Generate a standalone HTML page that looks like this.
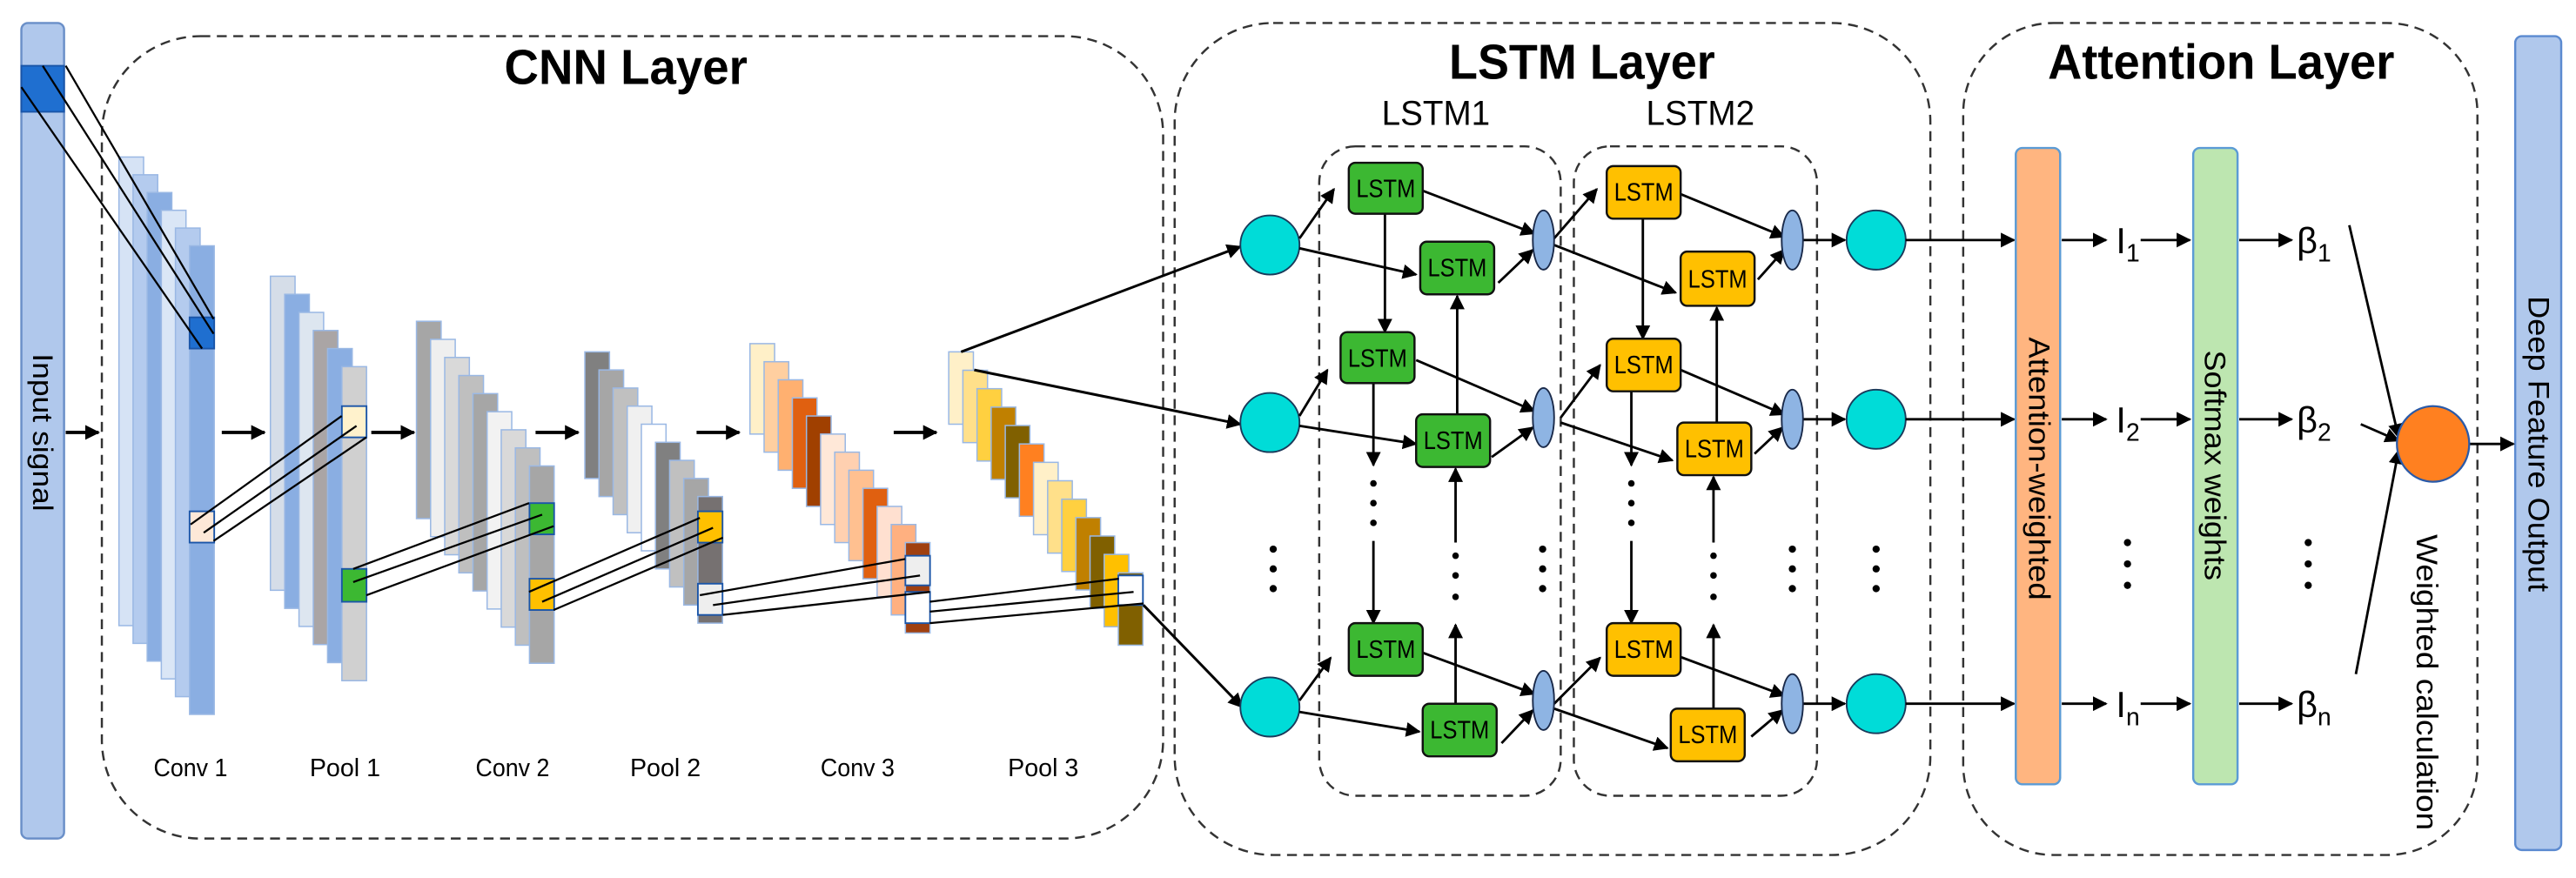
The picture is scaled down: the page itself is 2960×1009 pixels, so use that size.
<!DOCTYPE html>
<html><head><meta charset="utf-8"><style>html,body{margin:0;padding:0;background:#fff}svg{display:block}</style></head>
<body>
<svg width="2960" height="1009" viewBox="0 0 1568 534" preserveAspectRatio="none" xmlns="http://www.w3.org/2000/svg" font-family="Liberation Sans, sans-serif">
<defs>
<marker id="a" viewBox="0 0 10 10" refX="9" refY="5" markerWidth="9" markerHeight="9" markerUnits="userSpaceOnUse" orient="auto"><path d="M0,0L10,5L0,10z" fill="#000"/></marker>
</defs>
<rect width="1568" height="534" fill="#fff"/>
<g fill="none" stroke="#333" stroke-width="1.3" stroke-dasharray="6,4">
<rect x="62" y="22" width="646" height="488" rx="60"/>
<rect x="715" y="14" width="460" height="506" rx="60"/>
<rect x="1195" y="14" width="313" height="506" rx="55"/>
<rect x="803" y="89" width="147" height="395" rx="22"/>
<rect x="958" y="89" width="148" height="395" rx="22"/>
</g>
<rect x="13" y="14" width="26" height="496" rx="4" fill="#b0c8ec" stroke="#6a8fc8" stroke-width="1.3"/>
<rect x="13" y="40" width="26" height="28" fill="#1f6fd0" stroke="#1a55a8"/>
<text transform="translate(20,263) rotate(90)" text-anchor="middle" font-size="17" textLength="96" lengthAdjust="spacingAndGlyphs">Input signal</text>
<rect x="1531" y="22" width="28" height="495" rx="4" fill="#b0c8ec" stroke="#5b8ad0" stroke-width="1.3"/>
<text transform="translate(1539,270) rotate(90)" text-anchor="middle" font-size="18" textLength="180" lengthAdjust="spacingAndGlyphs">Deep Feature Output</text>
<text x="381" y="51" text-anchor="middle" font-size="30" font-weight="bold" textLength="148" lengthAdjust="spacingAndGlyphs">CNN Layer</text>
<text x="963" y="48" text-anchor="middle" font-size="30" font-weight="bold" textLength="162" lengthAdjust="spacingAndGlyphs">LSTM Layer</text>
<text x="1352" y="48" text-anchor="middle" font-size="30" font-weight="bold" textLength="211" lengthAdjust="spacingAndGlyphs">Attention Layer</text>
<text x="874" y="76" text-anchor="middle" font-size="21" textLength="66" lengthAdjust="spacingAndGlyphs">LSTM1</text>
<text x="1035" y="76" text-anchor="middle" font-size="21" textLength="66" lengthAdjust="spacingAndGlyphs">LSTM2</text>
<g stroke="#9ab8e4" stroke-width="0.8">
<rect x="72.4" y="95.5" width="15" height="285" fill="#d6e3f5"/>
<rect x="81" y="106.3" width="15" height="285" fill="#b4cbee"/>
<rect x="89.6" y="117.1" width="15" height="285" fill="#8aaee2"/>
<rect x="98.2" y="127.9" width="15" height="285" fill="#dae6f6"/>
<rect x="106.8" y="138.7" width="15" height="285" fill="#b4cbee"/>
<rect x="115.4" y="149.5" width="15" height="285" fill="#8aaee2"/>
</g>
<rect x="115.4" y="193" width="15" height="19" fill="#1f6fd0" stroke="#1a55a8"/>
<rect x="115.4" y="311" width="15" height="19" fill="#fde8d8" stroke="#1a55a8"/>
<g stroke="#9ab8e4" stroke-width="0.8">
<rect x="164.6" y="168" width="15" height="191" fill="#d5dde8"/>
<rect x="173.3" y="179" width="15" height="191" fill="#8aaee2"/>
<rect x="182" y="190" width="15" height="191" fill="#dde6f0"/>
<rect x="190.7" y="201" width="15" height="191" fill="#aaa5a5"/>
<rect x="199.4" y="212" width="15" height="191" fill="#8aaee2"/>
<rect x="208.1" y="223" width="15" height="191" fill="#d0d0d0"/>
</g>
<rect x="208.1" y="247" width="15" height="19" fill="#fff2cc" stroke="#1a55a8"/>
<rect x="208.1" y="346" width="15" height="20" fill="#3cb832" stroke="#1a55a8"/>
<g stroke="#9ab8e4" stroke-width="0.8">
<rect x="253.5" y="195.4" width="15" height="120" fill="#a6a6a6"/>
<rect x="262.1" y="206.4" width="15" height="120" fill="#efefef"/>
<rect x="270.7" y="217.4" width="15" height="120" fill="#d9d9d9"/>
<rect x="279.3" y="228.4" width="15" height="120" fill="#bfbfbf"/>
<rect x="287.9" y="239.4" width="15" height="120" fill="#a6a6a6"/>
<rect x="296.5" y="250.4" width="15" height="120" fill="#f2f2f2"/>
<rect x="305.1" y="261.4" width="15" height="120" fill="#d9d9d9"/>
<rect x="313.7" y="272.4" width="15" height="120" fill="#bfbfbf"/>
<rect x="322.3" y="283.4" width="15" height="120" fill="#a6a6a6"/>
</g>
<rect x="322.3" y="306" width="15" height="19" fill="#3cb832" stroke="#1a55a8"/>
<rect x="322.3" y="352" width="15" height="19" fill="#ffc000" stroke="#1a55a8"/>
<g stroke="#9ab8e4" stroke-width="0.8">
<rect x="356" y="214" width="15" height="77" fill="#808080"/>
<rect x="364.6" y="225" width="15" height="77" fill="#a6a6a6"/>
<rect x="373.2" y="236" width="15" height="77" fill="#c0c0c0"/>
<rect x="381.8" y="247" width="15" height="77" fill="#f0f0f0"/>
<rect x="390.4" y="258" width="15" height="77" fill="#ffffff"/>
<rect x="399" y="269" width="15" height="77" fill="#808080"/>
<rect x="407.6" y="280" width="15" height="77" fill="#c0c0c0"/>
<rect x="416.2" y="291" width="15" height="77" fill="#a6a6a6"/>
<rect x="424.8" y="302" width="15" height="77" fill="#767171"/>
</g>
<rect x="424.8" y="311" width="15" height="19" fill="#ffc000" stroke="#1a55a8"/>
<rect x="424.8" y="355" width="15" height="19" fill="#eeeeee" stroke="#1a55a8"/>
<g stroke="#9ab8e4" stroke-width="0.8">
<rect x="456.5" y="209" width="15" height="55" fill="#fff0c8"/>
<rect x="465.1" y="220" width="15" height="55" fill="#ffcfa0"/>
<rect x="473.7" y="231" width="15" height="55" fill="#ffb070"/>
<rect x="482.3" y="242" width="15" height="55" fill="#e06010"/>
<rect x="490.9" y="253" width="15" height="55" fill="#a04000"/>
<rect x="499.5" y="264" width="15" height="55" fill="#ffe8d8"/>
<rect x="508.1" y="275" width="15" height="55" fill="#ffd0b0"/>
<rect x="516.7" y="286" width="15" height="55" fill="#ffc090"/>
<rect x="525.3" y="297" width="15" height="55" fill="#e06010"/>
<rect x="533.9" y="308" width="15" height="55" fill="#ffe0d0"/>
<rect x="542.5" y="319" width="15" height="55" fill="#ffb080"/>
<rect x="551.1" y="330" width="15" height="55" fill="#a04010"/>
</g>
<rect x="551.1" y="338" width="15" height="18" fill="#eeeeee" stroke="#1a55a8"/>
<rect x="551.1" y="360" width="15" height="19" fill="#ffffff" stroke="#1a55a8"/>
<g stroke="#9ab8e4" stroke-width="0.8">
<rect x="577.5" y="214" width="15" height="44" fill="#fff0c8"/>
<rect x="586.1" y="225.2" width="15" height="44" fill="#ffe08a"/>
<rect x="594.7" y="236.4" width="15" height="44" fill="#ffd040"/>
<rect x="603.3" y="247.6" width="15" height="44" fill="#c08000"/>
<rect x="611.9" y="258.8" width="15" height="44" fill="#806000"/>
<rect x="620.5" y="270" width="15" height="44" fill="#ff8020"/>
<rect x="629.1" y="281.2" width="15" height="44" fill="#fff0c8"/>
<rect x="637.7" y="292.4" width="15" height="44" fill="#ffe08a"/>
<rect x="646.3" y="303.6" width="15" height="44" fill="#ffd040"/>
<rect x="654.9" y="314.8" width="15" height="44" fill="#c08000"/>
<rect x="663.5" y="326" width="15" height="44" fill="#806000"/>
<rect x="672.1" y="337.2" width="15" height="44" fill="#ffc000"/>
<rect x="680.7" y="348.4" width="15" height="44" fill="#806000"/>
</g>
<rect x="680.7" y="350" width="15" height="18" fill="#ffffff" stroke="#1a55a8"/>
<g stroke="#000" stroke-width="1.2" fill="none">
<path d="M13,53L123,212M26,40L130,203M40,40L130,194"/>
<path d="M116,319L208,253M124,324L217,259M130,329L223,266"/>
<path d="M215,346L322,306M215,354L330,313M223,362L337,320"/>
<path d="M322,360L426,315M330,366L434,321M337,371L440,327"/>
<path d="M426,362L551,340M434,368L560,350M440,374L566,360"/>
<path d="M566,366L681,352M566,372L690,360M566,379L696,367"/>
</g>
<g stroke="#000" stroke-width="2" marker-end="url(#a)">
<line x1="40" y1="263" x2="60" y2="263"/>
<line x1="135" y1="263" x2="161" y2="263"/>
<line x1="226" y1="263" x2="252" y2="263"/>
<line x1="326" y1="263" x2="352" y2="263"/>
<line x1="424" y1="263" x2="450" y2="263"/>
<line x1="544" y1="263" x2="570" y2="263"/>
</g>
<g font-size="15" text-anchor="middle" lengthAdjust="spacingAndGlyphs">
<text x="116" y="472" textLength="45" lengthAdjust="spacingAndGlyphs">Conv 1</text>
<text x="210" y="472" textLength="43" lengthAdjust="spacingAndGlyphs">Pool 1</text>
<text x="312" y="472" textLength="45" lengthAdjust="spacingAndGlyphs">Conv 2</text>
<text x="405" y="472" textLength="43" lengthAdjust="spacingAndGlyphs">Pool 2</text>
<text x="522" y="472" textLength="45" lengthAdjust="spacingAndGlyphs">Conv 3</text>
<text x="635" y="472" textLength="43" lengthAdjust="spacingAndGlyphs">Pool 3</text>
</g>
<g stroke="#000" stroke-width="1.6" marker-end="url(#a)">
<line x1="585" y1="214" x2="755" y2="150"/>
<line x1="593" y1="225" x2="755" y2="258"/>
<line x1="696" y1="368" x2="756" y2="430"/>
</g>
<g fill="#00dcd8" stroke="#1a3a5a" stroke-width="1">
<ellipse cx="773" cy="149" rx="18" ry="18"/>
<ellipse cx="773" cy="257" rx="18" ry="18"/>
<ellipse cx="773" cy="430" rx="18" ry="18"/>
<ellipse cx="1142" cy="146" rx="18" ry="18"/>
<ellipse cx="1142" cy="255" rx="18" ry="18"/>
<ellipse cx="1142" cy="428" rx="18" ry="18"/>
</g>
<g stroke="#000" stroke-width="1.5" marker-end="url(#a)">
<line x1="791" y1="145" x2="812" y2="115"/>
<line x1="791" y1="151" x2="862" y2="167"/>
<line x1="791" y1="253" x2="808" y2="225"/>
<line x1="791" y1="259" x2="862" y2="270"/>
<line x1="791" y1="426" x2="810" y2="400"/>
<line x1="791" y1="433" x2="864" y2="445"/>
<line x1="866" y1="116" x2="934" y2="142"/>
<line x1="912" y1="172" x2="933" y2="152"/>
<line x1="862" y1="219" x2="934" y2="250"/>
<line x1="908" y1="278" x2="933" y2="260"/>
<line x1="866" y1="397" x2="934" y2="422"/>
<line x1="914" y1="452" x2="933" y2="432"/>
<line x1="946" y1="145" x2="972" y2="115"/>
<line x1="946" y1="149" x2="1020" y2="178"/>
<line x1="950" y1="254" x2="974" y2="222"/>
<line x1="950" y1="257" x2="1018" y2="280"/>
<line x1="946" y1="428" x2="974" y2="400"/>
<line x1="946" y1="431" x2="1015" y2="455"/>
<line x1="1018" y1="116" x2="1086" y2="144"/>
<line x1="1070" y1="170" x2="1086" y2="152"/>
<line x1="1016" y1="222" x2="1086" y2="252"/>
<line x1="1068" y1="276" x2="1085" y2="260"/>
<line x1="1016" y1="397" x2="1086" y2="423"/>
<line x1="1066" y1="448" x2="1085" y2="432"/>
<line x1="1097" y1="146" x2="1123" y2="146"/>
<line x1="1097" y1="255" x2="1123" y2="255"/>
<line x1="1097" y1="428" x2="1123" y2="428"/>
<line x1="843" y1="130" x2="843" y2="202"/>
<line x1="836" y1="233" x2="836" y2="283"/>
<line x1="836" y1="329" x2="836" y2="379"/>
<line x1="887" y1="252" x2="887" y2="180"/>
<line x1="886" y1="428" x2="886" y2="380"/>
<line x1="886" y1="330" x2="886" y2="285"/>
<line x1="1000" y1="133" x2="1000" y2="206"/>
<line x1="993" y1="238" x2="993" y2="283"/>
<line x1="993" y1="329" x2="993" y2="379"/>
<line x1="1045" y1="257" x2="1045" y2="187"/>
<line x1="1043" y1="431" x2="1043" y2="380"/>
<line x1="1043" y1="330" x2="1043" y2="290"/>
<line x1="1160" y1="146" x2="1226" y2="146"/>
<line x1="1160" y1="255" x2="1226" y2="255"/>
<line x1="1160" y1="428" x2="1226" y2="428"/>
<line x1="1255" y1="146" x2="1282" y2="146"/>
<line x1="1255" y1="255" x2="1282" y2="255"/>
<line x1="1255" y1="428" x2="1282" y2="428"/>
<line x1="1303" y1="146" x2="1333" y2="146"/>
<line x1="1303" y1="255" x2="1333" y2="255"/>
<line x1="1303" y1="428" x2="1333" y2="428"/>
<line x1="1363" y1="146" x2="1395" y2="146"/>
<line x1="1363" y1="255" x2="1395" y2="255"/>
<line x1="1363" y1="428" x2="1395" y2="428"/>
<line x1="1430" y1="137" x2="1460" y2="266"/>
<line x1="1437" y1="258" x2="1460" y2="268"/>
<line x1="1434" y1="410" x2="1460" y2="274"/>
<line x1="1503" y1="270" x2="1530" y2="270"/>
</g>
<g fill="#8eb4e3" stroke="#1a2a4a" stroke-width="1">
<ellipse cx="939.5" cy="146" rx="6.5" ry="18"/>
<ellipse cx="939.5" cy="254" rx="6.5" ry="18"/>
<ellipse cx="939.5" cy="426" rx="6.5" ry="18"/>
<ellipse cx="1091" cy="146" rx="6.5" ry="18"/>
<ellipse cx="1091" cy="255" rx="6.5" ry="18"/>
<ellipse cx="1091" cy="428" rx="6.5" ry="18"/>
</g>
<g stroke="#111" stroke-width="1.3">
<rect x="821" y="99" width="45" height="31" rx="4" fill="#3cb832"/>
<rect x="864.5" y="147" width="45" height="32" rx="4" fill="#3cb832"/>
<rect x="816" y="202" width="45" height="31" rx="4" fill="#3cb832"/>
<rect x="862" y="252" width="45" height="32" rx="4" fill="#3cb832"/>
<rect x="821" y="379" width="45" height="32" rx="4" fill="#3cb832"/>
<rect x="866" y="428" width="45" height="32" rx="4" fill="#3cb832"/>
<rect x="978" y="101" width="45" height="32" rx="4" fill="#ffc000"/>
<rect x="1023" y="153" width="45" height="33" rx="4" fill="#ffc000"/>
<rect x="978" y="206" width="45" height="32" rx="4" fill="#ffc000"/>
<rect x="1021" y="257" width="45" height="32" rx="4" fill="#ffc000"/>
<rect x="978" y="379" width="45" height="32" rx="4" fill="#ffc000"/>
<rect x="1017" y="431" width="45" height="32" rx="4" fill="#ffc000"/>
</g>
<g font-size="15" text-anchor="middle">
<text x="843.5" y="120" textLength="36" lengthAdjust="spacingAndGlyphs">LSTM</text>
<text x="887" y="168" textLength="36" lengthAdjust="spacingAndGlyphs">LSTM</text>
<text x="838.5" y="223" textLength="36" lengthAdjust="spacingAndGlyphs">LSTM</text>
<text x="884.5" y="273" textLength="36" lengthAdjust="spacingAndGlyphs">LSTM</text>
<text x="843.5" y="400" textLength="36" lengthAdjust="spacingAndGlyphs">LSTM</text>
<text x="888.5" y="449" textLength="36" lengthAdjust="spacingAndGlyphs">LSTM</text>
<text x="1000.5" y="122" textLength="36" lengthAdjust="spacingAndGlyphs">LSTM</text>
<text x="1045.5" y="175" textLength="36" lengthAdjust="spacingAndGlyphs">LSTM</text>
<text x="1000.5" y="227" textLength="36" lengthAdjust="spacingAndGlyphs">LSTM</text>
<text x="1043.5" y="278" textLength="36" lengthAdjust="spacingAndGlyphs">LSTM</text>
<text x="1000.5" y="400" textLength="36" lengthAdjust="spacingAndGlyphs">LSTM</text>
<text x="1039.5" y="452" textLength="36" lengthAdjust="spacingAndGlyphs">LSTM</text>
</g>
<g fill="#000">
<circle cx="836" cy="294" r="2"/><circle cx="836" cy="306" r="2"/><circle cx="836" cy="318" r="2"/>
<circle cx="993" cy="294" r="2"/><circle cx="993" cy="306" r="2"/><circle cx="993" cy="318" r="2"/>
<circle cx="886" cy="338" r="2"/><circle cx="886" cy="350" r="2"/><circle cx="886" cy="363" r="2"/>
<circle cx="1043" cy="338" r="2"/><circle cx="1043" cy="350" r="2"/><circle cx="1043" cy="363" r="2"/>
<circle cx="775" cy="334" r="2.2"/><circle cx="775" cy="346" r="2.2"/><circle cx="775" cy="358" r="2.2"/>
<circle cx="939" cy="334" r="2.2"/><circle cx="939" cy="346" r="2.2"/><circle cx="939" cy="358" r="2.2"/>
<circle cx="1091" cy="334" r="2.2"/><circle cx="1091" cy="346" r="2.2"/><circle cx="1091" cy="358" r="2.2"/>
<circle cx="1142" cy="334" r="2.2"/><circle cx="1142" cy="346" r="2.2"/><circle cx="1142" cy="358" r="2.2"/>
<circle cx="1295" cy="330" r="2.2"/><circle cx="1295" cy="343" r="2.2"/><circle cx="1295" cy="356" r="2.2"/>
<circle cx="1405" cy="330" r="2.2"/><circle cx="1405" cy="343" r="2.2"/><circle cx="1405" cy="356" r="2.2"/>
</g>
<rect x="1227" y="90" width="27" height="387" rx="4" fill="#ffb580" stroke="#5b9bd5" stroke-width="1.3"/>
<text transform="translate(1235,285) rotate(90)" text-anchor="middle" font-size="18" textLength="160" lengthAdjust="spacingAndGlyphs">Attention-weighted</text>
<rect x="1335" y="90" width="27" height="387" rx="4" fill="#bde6b0" stroke="#5b9bd5" stroke-width="1.3"/>
<text transform="translate(1342,283) rotate(90)" text-anchor="middle" font-size="18" textLength="140" lengthAdjust="spacingAndGlyphs">Softmax weights</text>
<ellipse cx="1481" cy="270" rx="22" ry="23" fill="#ff8020" stroke="#2a5aa8" stroke-width="1.2"/>
<text transform="translate(1471,415) rotate(90)" text-anchor="middle" font-size="18" textLength="180" lengthAdjust="spacingAndGlyphs">Weighted calculation</text>
<g font-size="22">
<text x="1288" y="154">I<tspan font-size="15" dy="5">1</tspan></text>
<text x="1288" y="263">I<tspan font-size="15" dy="5">2</tspan></text>
<text x="1288" y="436">I<tspan font-size="15" dy="5">n</tspan></text>
<text x="1398" y="154">β<tspan font-size="15" dy="5">1</tspan></text>
<text x="1398" y="263">β<tspan font-size="15" dy="5">2</tspan></text>
<text x="1398" y="436">β<tspan font-size="15" dy="5">n</tspan></text>
</g>
</svg>
</body></html>
